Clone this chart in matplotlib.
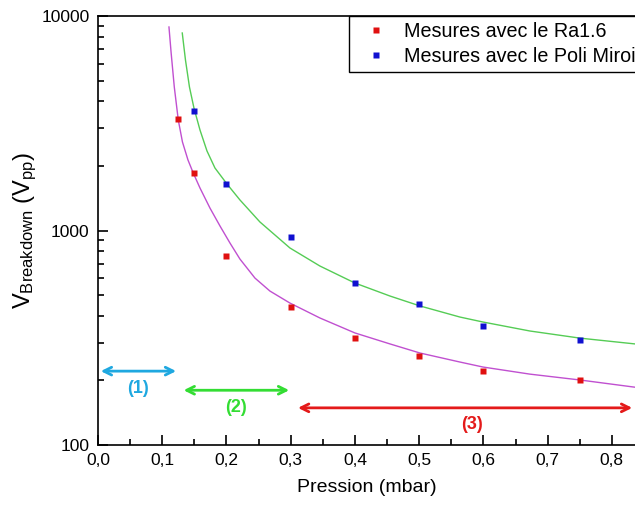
import matplotlib as mpl
mpl.use('Agg')
import matplotlib.pyplot as plt
from matplotlib.ticker import FixedLocator, LogLocator, NullFormatter, FuncFormatter

plt.rcParams['font.family'] = ['Liberation Sans', 'DejaVu Sans']
plt.rcParams['mathtext.fontset'] = 'custom'
plt.rcParams['mathtext.rm'] = 'Liberation Sans'
plt.rcParams['mathtext.it'] = 'Liberation Sans'

# measured points (pressure in mbar, breakdown voltage in Vpp)
p_ra = [0.125, 0.15, 0.2, 0.3, 0.4, 0.5, 0.6, 0.75]
v_ra = [3310, 1850, 760, 440, 315, 260, 221, 201]
p_poli = [0.15, 0.2, 0.3, 0.4, 0.5, 0.6, 0.75]
v_poli = [3600, 1650, 933, 569, 454, 359, 309]

# fit curves
fit_ra_p = [0.1105, 0.1139, 0.1188, 0.1250, 0.1315, 0.1401, 0.1483, 0.1588, 0.1743,
            0.1899, 0.2055, 0.2210, 0.2444, 0.2677, 0.2988, 0.3455, 0.4000, 0.4545,
            0.5012, 0.5634, 0.5992, 0.6724, 0.7502, 0.8358]
fit_ra_v = [8887, 6722, 4667, 3275, 2586, 2132, 1854, 1578, 1273,
            1050, 874, 736, 600, 522, 459, 391, 333, 296,
            268.5, 243.7, 231, 214, 201, 186]
fit_poli_p = [0.1312, 0.1362, 0.1424, 0.1494, 0.1588, 0.1697, 0.1821, 0.2008, 0.2210,
              0.2521, 0.2988, 0.3455, 0.4000, 0.4545, 0.5012, 0.5634, 0.5992, 0.6724,
              0.7502, 0.8358]
fit_poli_v = [8332, 6235, 4667, 3725, 2941, 2348, 1956, 1648, 1388,
              1096, 829, 683, 569, 495, 445, 395, 374.5, 340,
              315, 296]

# regime arrows: (start, end, height, label, label height, colour)
zones = [(0.0, 0.126, 221, '(1)', 184, '#1fa8e0'),
         (0.129, 0.302, 180, '(2)', 150, '#33dd33'),
         (0.307, 0.836, 149, '(3)', 124, '#e41a1a')]

fig = plt.figure(figsize=(6.35, 5.08), dpi=100)
ax = fig.add_axes([0.1543, 0.124, 0.8457, 0.8445])

ax.plot(fit_ra_p, fit_ra_v, color='#c050d0', lw=1.0)
ax.plot(fit_poli_p, fit_poli_v, color='#55cc55', lw=1.0)
ax.plot(p_ra, v_ra, 's', color='#e01010', ms=4, mec='none', label='Mesures avec le Ra1.6')
ax.plot(p_poli, v_poli, 's', color='#1010d0', ms=4, mec='none', label='Mesures avec le Poli Miroir')

for x0, x1, y, lab, ylab, c in zones:
    ax.annotate('', xy=(x1, y), xytext=(x0, y),
                arrowprops=dict(arrowstyle='<->', color=c, lw=2, mutation_scale=14))
    ax.text((x0 + x1) / 2 + (0.01 if lab == '(3)' else 0), ylab, lab, color=c,
            fontsize=13, fontweight='bold', ha='center', va='center')

ax.set_yscale('log')
ax.set_ylim(100, 10000)
ax.set_xlim(0, 0.836)
ax.spines['right'].set_visible(False)
ax.xaxis.set_major_locator(FixedLocator([0, 0.1, 0.2, 0.3, 0.4, 0.5, 0.6, 0.7, 0.8]))
ax.xaxis.set_minor_locator(FixedLocator([0.05, 0.15, 0.25, 0.35, 0.45, 0.55, 0.65, 0.75]))
ax.xaxis.set_major_formatter(FuncFormatter(lambda v, pos: ('%.1f' % v).replace('.', ',')))
ax.yaxis.set_major_locator(FixedLocator([100, 1000, 10000]))
ax.yaxis.set_major_formatter(FuncFormatter(lambda v, pos: '%d' % v))
ax.yaxis.set_minor_locator(LogLocator(base=10, subs=range(2, 10)))
ax.yaxis.set_minor_formatter(NullFormatter())
ax.tick_params(which='both', direction='in', top=False, right=False, width=1.2)
ax.tick_params(which='major', length=7, labelsize=12.5, pad=6)
ax.tick_params(which='minor', length=4)
for s in ['left', 'bottom', 'top']:
    ax.spines[s].set_linewidth(1.2)

ax.set_xlabel('Pression (mbar)', fontsize=14, labelpad=8)
ax.set_ylabel(r'V$_{\mathrm{Breakdown}}$ (V$_{\mathrm{pp}}$)', fontsize=17, labelpad=2)

leg = ax.legend(loc='upper left', bbox_to_anchor=(0.467, 1.0), fontsize=14.2,
                frameon=True, fancybox=False, edgecolor='black', framealpha=1,
                handlelength=2.2, handletextpad=0.3, borderpad=0.3, labelspacing=0.3,
                markerscale=1.0, borderaxespad=0)
leg.get_frame().set_linewidth(1.0)

plt.savefig('out.png', dpi=100)
